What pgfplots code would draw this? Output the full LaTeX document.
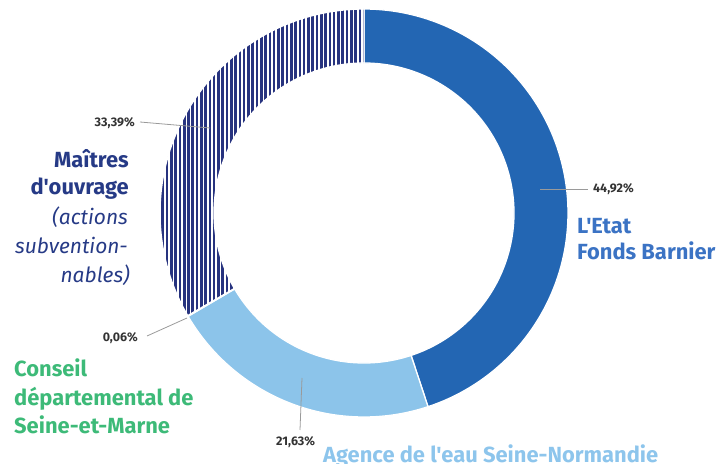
\documentclass[border=0pt]{standalone}
\usepackage{pgfplots}
\pgfplotsset{compat=1.18}
\usepackage{pgfplotstable}
\usepackage{fontspec}
\setmainfont{Fira Sans}[Ligatures=TeXOff]
\usetikzlibrary{patterns.meta}
\definecolor{etat}{HTML}{2366B3}
\definecolor{agence}{HTML}{8CC4EA}
\definecolor{conseil}{HTML}{3DBA78}
\definecolor{maitres}{HTML}{27337F}
\definecolor{navytxt}{HTML}{263A86}
\definecolor{etattxt}{HTML}{3B73C4}
\definecolor{agencetxt}{HTML}{8DC5EC}
\definecolor{pcttxt}{HTML}{333333}
\definecolor{leader}{HTML}{9A9A9A}

\pgfplotstableread{
part pct
Etat 44.92
Agence 21.63
Conseil 0.06
Maitres 33.39
}\shares

% annular sector: #1 start angle, #2 end angle, #3 style
\newcommand\ringsector[3]{%
  \addplot[#3, samples at={0,1,...,100,100.001,101,102,...,200}]
    ({(x<=100?204:150)*cos(x<=100 ? #1+(#2-#1)*x/100 : #1+(#2-#1)*(200-x)/100)},
     {(x<=100?204:150)*sin(x<=100 ? #1+(#2-#1)*x/100 : #1+(#2-#1)*(200-x)/100)}) -- cycle;
}

\begin{document}%
\begin{tikzpicture}
\pgfplotstablegetelem{0}{pct}\of\shares\pgfmathsetmacro\pA{\pgfplotsretval}
\pgfplotstablegetelem{1}{pct}\of\shares\pgfmathsetmacro\pB{\pgfplotsretval}
\pgfplotstablegetelem{2}{pct}\of\shares\pgfmathsetmacro\pC{\pgfplotsretval}
\pgfplotstablegetelem{3}{pct}\of\shares\pgfmathsetmacro\pD{\pgfplotsretval}
\pgfmathsetmacro\aO{90}
\pgfmathsetmacro\aA{\aO-3.6*\pA}
\pgfmathsetmacro\aB{\aA-3.6*\pB}
\pgfmathsetmacro\aC{\aB-3.6*\pC}
\pgfmathsetmacro\aD{\aC-3.6*\pD}
\begin{axis}[width=722bp,height=464bp,scale only axis,at={(0,0)},anchor=south west,
  xmin=-364,xmax=358,ymin=-251,ymax=213,hide axis,clip=false]
\ringsector{\aO}{\aA}{fill=etat,draw=white,line width=1.3pt}
\ringsector{\aA}{\aB}{fill=agence,draw=white,line width=1.3pt}
\ringsector{\aB}{\aC}{fill=conseil,draw=white,line width=1.3pt}
\ringsector{\aC}{\aD}{pattern={Lines[angle=90,distance=4.3pt,line width=2.6pt]},pattern color=maitres,draw=white,line width=1.3pt}
% leader lines
\addplot[leader,line width=0.8pt] coordinates {(-224,91) (-154,85)};
\addplot[leader,line width=0.8pt] coordinates {(176,24) (224,24)};
\addplot[leader,line width=0.8pt] coordinates {(-217,-123) (-177,-105)};
\addplot[leader,line width=0.8pt] coordinates {(-62,-165) (-64,-217)};
% percentages
\tikzset{pct/.style={text=pcttxt,font=\fontsize{12.5}{14}\selectfont\bfseries,inner sep=0pt}}
\node[pct,anchor=base east] at (axis cs:-229,86) {33,39\%};
\node[pct,anchor=base west] at (axis cs:229,20) {44,92\%};
\node[pct,anchor=base east] at (axis cs:-226,-129) {0,06\%};
\node[pct,anchor=base west] at (axis cs:-88,-232) {21,63\%};
% category labels
\tikzset{big/.style={font=\fontsize{22}{26}\selectfont\bfseries,inner sep=0pt}}
\tikzset{bigit/.style={font=\fontsize{21}{26}\selectfont\itshape,inner sep=0pt,text=navytxt}}
\node[big,text=navytxt,anchor=base east] at (axis cs:-235,45) {Maîtres};
\node[big,text=navytxt,anchor=base east] at (axis cs:-235,18) {d'ouvrage};
\node[bigit,anchor=base east] at (axis cs:-236,-12) {(actions};
\node[bigit,anchor=base east] at (axis cs:-236,-41) {subvention-};
\node[bigit,anchor=base east] at (axis cs:-234,-70) {nables)};
\node[big,text=etattxt,anchor=base west] at (axis cs:213,-21) {L'Etat};
\node[big,text=etattxt,anchor=base west] at (axis cs:213,-47) {Fonds Barnier};
\node[big,text=conseil,anchor=base west] at (axis cs:-350,-164) {Conseil};
\node[big,text=conseil,anchor=base west] at (axis cs:-350,-193) {départemental de};
\node[big,text=conseil,anchor=base west] at (axis cs:-350,-220) {Seine-et-Marne};
\node[big,text=agencetxt,anchor=base west] at (axis cs:-41,-249) {Agence de l'eau Seine-Normandie};
\end{axis}
\pgfresetboundingbox
\path[use as bounding box] (0,0) rectangle (722bp,464bp);
\end{tikzpicture}%
\end{document}
